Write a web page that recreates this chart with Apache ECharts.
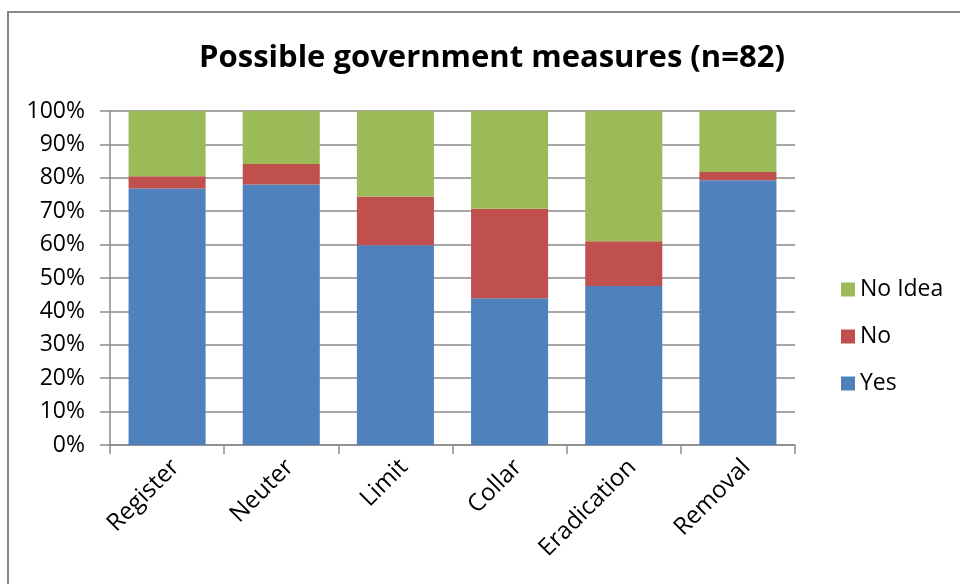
<!DOCTYPE html>
<html>
<head>
<meta charset="utf-8">
<script src="https://cdn.jsdelivr.net/npm/echarts@6/dist/echarts.min.js"></script>
<style>
  html, body { margin: 0; padding: 0; background: #fff; }
  #chart { width: 960px; height: 584px; }
</style>
</head>
<body>
<div id="chart"></div>
<script>
// Survey answers per measure, as percent of respondents (n = 82)
const categories = ['Register', 'Neuter', 'Limit', 'Collar', 'Eradication', 'Removal'];
const yesValues = [76.8, 78.0, 59.8, 43.9, 47.6, 79.3];
const noValues = [3.7, 6.1, 14.6, 26.8, 13.4, 2.4];
const noIdeaValues = [19.5, 15.9, 25.6, 29.3, 39.0, 18.3];
const legendOrder = ['No Idea', 'No', 'Yes'];

const FONT = 'Open Sans';
const gridColor = '#8a8a8a';

const chart = echarts.init(document.getElementById('chart'), null, { renderer: 'canvas' });

function barSeries(name, data, color) {
  return {
    name: name,
    type: 'bar',
    stack: 'total',
    data: data,
    barWidth: '67.5%',
    itemStyle: { color: color },
    emphasis: { disabled: true }
  };
}

chart.setOption({
  animation: false,
  title: {
    text: 'Possible government measures (n=82)',
    left: 487,
    top: 38,
    textAlign: 'center',
    textStyle: { fontFamily: FONT, fontSize: 31, fontWeight: 'bold', color: '#000' }
  },
  graphic: [{
    type: 'rect',
    shape: { x: 8, y: 12, width: 1000, height: 620 },
    style: { fill: 'none', stroke: '#888', lineWidth: 2 },
    silent: true
  }],
  legend: {
    data: legendOrder,
    orient: 'vertical',
    left: 836,
    top: 273,
    itemWidth: 14,
    itemHeight: 14,
    itemGap: 24,
    icon: 'rect',
    textStyle: { fontFamily: FONT, fontSize: 23, color: '#000', padding: [0, 0, 0, 0] }
  },
  grid: { left: 110, right: 165, top: 111, bottom: 139, containLabel: false },
  xAxis: {
    type: 'category',
    data: categories,
    axisLine: { show: true, lineStyle: { color: gridColor, width: 1.5 } },
    axisTick: { show: true, length: 9, alignWithLabel: false, lineStyle: { color: gridColor, width: 1.5 } },
    axisLabel: {
      rotate: 45,
      margin: 10,
      verticalAlign: 'top',
      fontFamily: FONT,
      fontSize: 24,
      color: '#000',
      interval: 0
    }
  },
  yAxis: {
    type: 'value',
    min: 0,
    max: 100,
    interval: 10,
    axisLine: { show: true, lineStyle: { color: gridColor, width: 1.5 } },
    axisTick: { show: true, length: 10, lineStyle: { color: gridColor, width: 1.5 } },
    splitLine: { show: true, lineStyle: { color: gridColor, width: 1.5 } },
    axisLabel: {
      formatter: '{value}%',
      margin: 25,
      fontFamily: FONT,
      fontSize: 23,
      color: '#000'
    }
  },
  series: [
    barSeries('Yes', yesValues, '#4F81BD'),
    barSeries('No', noValues, '#C0504D'),
    barSeries('No Idea', noIdeaValues, '#9BBB59')
  ]
});
</script>
</body>
</html>
